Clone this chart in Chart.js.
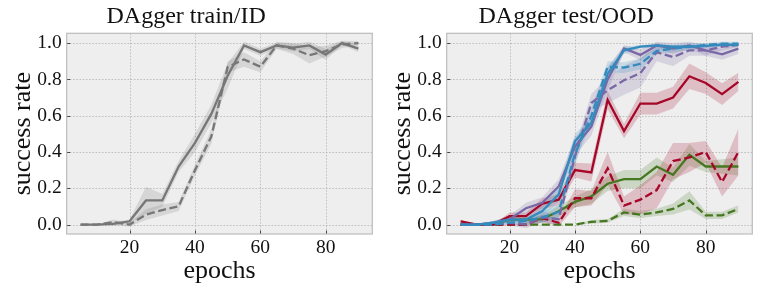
<!DOCTYPE html>
<html><head><meta charset="utf-8">
<script src="https://cdn.jsdelivr.net/npm/chart.js@4.4.1/dist/chart.umd.min.js"></script>
<style>
html,body{margin:0;padding:0;background:#fff;width:761px;height:294px;overflow:hidden}
.box{position:absolute;top:0;height:294px}
#b1{left:0;width:380px}
#b2{left:380px;width:381px}
</style></head><body>
<div class="box" id="b1"><canvas id="c1"></canvas></div>
<div class="box" id="b2"><canvas id="c2"></canvas></div>
<script>
// ---- data ----
const epochs = [5,10,15,20,25,30,35,40,45,50,55,60,65,70,75,80,85,90];
const xTicks = [20,40,60,80];
const yTicks = [0,0.2,0.4,0.6,0.8,1.0];
const titles = ["DAgger train/ID","DAgger test/OOD"];
const xLabel = "epochs";
const yLabel = "success rate";

// train/ID (gray)
const idSolid        = [0,0,0.004,0.018,0.133,0.133,0.32,0.45,0.61,0.82,0.987,0.95,0.987,0.975,0.987,0.937,1.0,0.97];
const idSolidSpread  = [0,0,0.01,0.01,0.075,0.035,0.03,0.05,0.05,0.07,0.02,0.02,0.015,0.02,0.02,0.03,0.01,0.02];
const idDashed       = [0,0,0.013,0,0.055,0.08,0.10,0.30,0.485,0.868,0.91,0.87,0.987,0.97,0.933,0.956,0.993,1.0];
const idDashedSpread = [0,0,0.015,0.01,0.03,0.03,0.025,0.03,0.04,0.03,0.04,0.03,0.02,0.03,0.045,0.03,0.02,0.01];

// test/OOD
const blueSolid          = [0,0,0.01,0.027,0.027,0.075,0.165,0.46,0.56,0.83,0.96,0.98,0.987,0.98,0.98,0.985,0.99,0.99];
const blueSolidSpread    = [0,0,0.01,0.015,0.02,0.03,0.04,0.04,0.03,0.04,0.02,0.01,0.01,0.01,0.01,0.01,0.01,0.01];
const blueDashed         = [0,0,0,0.01,0.02,0.04,0.07,0.39,0.60,0.87,0.865,0.886,0.957,0.97,0.98,0.99,0.997,0.997];
const blueDashedSpread   = [0,0,0.005,0.01,0.02,0.03,0.04,0.05,0.04,0.03,0.03,0.03,0.02,0.02,0.02,0.01,0.01,0.01];
const purpleSolid        = [0,0,0.01,0.03,0.09,0.12,0.21,0.43,0.54,0.80,0.97,0.935,0.987,0.97,0.987,0.96,0.938,0.97];
const purpleSolidSpread  = [0,0,0.01,0.02,0.03,0.03,0.04,0.05,0.05,0.06,0.02,0.03,0.02,0.03,0.02,0.03,0.03,0.03];
const purpleDashed       = [0,0,0,0.01,0,0.04,0.03,0.375,0.67,0.74,0.795,0.835,0.95,0.923,0.96,0.96,0.98,0.99];
const purpleDashedSpread = [0,0,0.005,0.015,0.02,0.03,0.03,0.05,0.05,0.07,0.08,0.08,0.05,0.05,0.03,0.03,0.02,0.01];
const redSolid           = [0.018,0,0,0.046,0.046,0.115,0.137,0.30,0.287,0.686,0.515,0.667,0.667,0.70,0.817,0.78,0.719,0.786];
const redSolidSpread     = [0.01,0,0,0.02,0.02,0.03,0.03,0.04,0.05,0.05,0.04,0.06,0.06,0.06,0.07,0.06,0.06,0.05];
const redDashed          = [0,0,0,0,0,0.036,0.01,0.145,0.145,0.31,0.105,0.137,0.19,0.35,0.37,0.40,0.235,0.40];
const redDashedSpread    = [0,0,0,0,0.01,0.02,0.02,0.05,0.04,0.09,0.05,0.08,0.1,0.1,0.08,0.06,0.08,0.13];
const greenSolid         = [0,0,0,0.027,0.027,0.03,0.073,0.125,0.155,0.225,0.25,0.25,0.32,0.274,0.384,0.32,0.32,0.32];
const greenSolidSpread   = [0,0,0,0.01,0.01,0.02,0.03,0.03,0.04,0.04,0.05,0.05,0.05,0.04,0.06,0.03,0.04,0.05];
const greenDashed        = [0,0,0,0,0,0,0,0,0.015,0.02,0.067,0.055,0.067,0.086,0.133,0.051,0.051,0.086];
const greenDashedSpread  = [0,0,0,0,0,0,0,0,0.01,0.01,0.02,0.02,0.02,0.03,0.05,0.02,0.02,0.02];

// ---- style ----
const FONT = "'Liberation Serif', 'Times New Roman', serif";
const TXT = '#111';
function rgba(hex, a){
  const n = parseInt(hex.slice(1),16);
  return `rgba(${(n>>16)&255},${(n>>8)&255},${n&255},${a})`;
}

const framePlugin = {
  id:'frame',
  beforeDraw(chart){
    const {ctx, chartArea:a} = chart;
    ctx.save();
    ctx.fillStyle = '#eeeeee';
    ctx.fillRect(a.left, a.top, a.right-a.left, a.bottom-a.top);
    ctx.restore();
  },
  beforeDatasetsDraw(chart){
    const {ctx, chartArea:a, scales} = chart;
    ctx.save();
    ctx.strokeStyle = '#b2b2b2';
    ctx.lineWidth = 0.8;
    ctx.setLineDash([1.6,1.6]);
    xTicks.forEach(v=>{
      const x = Math.round(scales.x.getPixelForValue(v))+0.5;
      ctx.beginPath(); ctx.moveTo(x,a.top); ctx.lineTo(x,a.bottom); ctx.stroke();
    });
    yTicks.forEach(v=>{
      const y = Math.round(scales.y.getPixelForValue(v))+0.5;
      ctx.beginPath(); ctx.moveTo(a.left,y); ctx.lineTo(a.right,y); ctx.stroke();
    });
    ctx.restore();
  },
  afterDatasetsDraw(chart){
    const {ctx, chartArea:a, scales} = chart;
    ctx.save();
    ctx.strokeStyle = '#333';
    ctx.lineWidth = 0.9;
    xTicks.forEach(v=>{
      const x = Math.round(scales.x.getPixelForValue(v))+0.5;
      ctx.beginPath(); ctx.moveTo(x,a.bottom); ctx.lineTo(x,a.bottom-3.5); ctx.stroke();
    });
    yTicks.forEach(v=>{
      const y = Math.round(scales.y.getPixelForValue(v))+0.5;
      ctx.beginPath(); ctx.moveTo(a.left,y); ctx.lineTo(a.left+3.5,y); ctx.stroke();
    });
    ctx.strokeStyle = '#bcbcbc';
    ctx.lineWidth = 1.2;
    ctx.strokeRect(a.left, a.top, a.right-a.left, a.bottom-a.top);
    ctx.restore();
  }
};

function makeChart(id, title, series, rightPad){
  const datasets = [];
  series.forEach(s=>{
    const lo = epochs.map((x,i)=>({x, y: s.data[i]-s.spread[i]}));
    const hi = epochs.map((x,i)=>({x, y: s.data[i]+s.spread[i]}));
    datasets.push({data: lo, borderWidth:0, pointRadius:0, fill:false, order:20, tension:0});
    datasets.push({data: hi, borderWidth:0, pointRadius:0, fill:'-1', backgroundColor: rgba(s.color,0.2), order:20, tension:0});
  });
  series.forEach((s,k)=>{
    datasets.push({
      data: epochs.map((x,i)=>({x, y:s.data[i]})),
      borderColor: s.color, borderWidth: 2.3, pointRadius: 0, fill:false, tension:0,
      borderDash: s.dashed ? [8,3.6] : [], borderCapStyle:'butt', borderJoinStyle:'miter',
      order: s.order
    });
  });
  return new Chart(document.getElementById(id), {
    type:'line',
    data:{datasets},
    plugins:[framePlugin],
    options:{
      responsive:true, maintainAspectRatio:false, animation:false,
      devicePixelRatio:1,
      layout:{padding:{left:0, right:rightPad, top:0, bottom:0}},
      plugins:{
        legend:{display:false}, tooltip:{enabled:false},
        title:{display:true, text:title, color:TXT,
          font:{family:FONT, size:24, weight:'normal', lineHeight:1.2},
          padding:{top:2, bottom:2.5}}
      },
      scales:{
        x:{type:'linear', min:0.75, max:94.25,
          afterBuildTicks:s=>{ s.ticks = xTicks.map(v=>({value:v})); },
          afterFit:s=>{ s.height = 60; },
          grid:{display:false, drawTicks:false}, border:{display:false},
          ticks:{color:TXT, font:{family:FONT, size:19.5}, padding:2, maxRotation:0, callback:v=>String(v)},
          title:{display:true, text:xLabel, color:TXT, font:{family:FONT, size:26, lineHeight:1.2}, padding:{top:0,bottom:7}}
        },
        y:{type:'linear', min:-0.052, max:1.054,
          afterBuildTicks:s=>{ s.ticks = yTicks.map(v=>({value:v})); },
          afterFit:s=>{ s.width = 66.7; },
          grid:{display:false, drawTicks:false}, border:{display:false},
          ticks:{color:TXT, font:{family:FONT, size:19.5}, padding:5, callback:v=>Number(v).toFixed(1)},
          title:{display:true, text:yLabel, color:TXT, font:{family:FONT, size:26, lineHeight:1.2}, padding:{top:8,bottom:0}}
        }
      }
    }
  });
}

const GRAY = '#777777', BLUE = '#348ABD', RED = '#A60628', PURPLE = '#7A68A6', GREEN = '#467821';

makeChart('c1', titles[0], [
  {data:idSolid, spread:idSolidSpread, color:GRAY, dashed:false, order:1},
  {data:idDashed, spread:idDashedSpread, color:GRAY, dashed:true, order:2}
], 7.7);

makeChart('c2', titles[1], [
  {data:blueSolid, spread:blueSolidSpread, color:BLUE, dashed:false, order:1},
  {data:blueDashed, spread:blueDashedSpread, color:BLUE, dashed:true, order:2},
  {data:purpleSolid, spread:purpleSolidSpread, color:PURPLE, dashed:false, order:3},
  {data:purpleDashed, spread:purpleDashedSpread, color:PURPLE, dashed:true, order:4},
  {data:redSolid, spread:redSolidSpread, color:RED, dashed:false, order:5},
  {data:redDashed, spread:redDashedSpread, color:RED, dashed:true, order:6},
  {data:greenSolid, spread:greenSolidSpread, color:GREEN, dashed:false, order:7},
  {data:greenDashed, spread:greenDashedSpread, color:GREEN, dashed:true, order:8}
], 8.7);
</script>
</body></html>
